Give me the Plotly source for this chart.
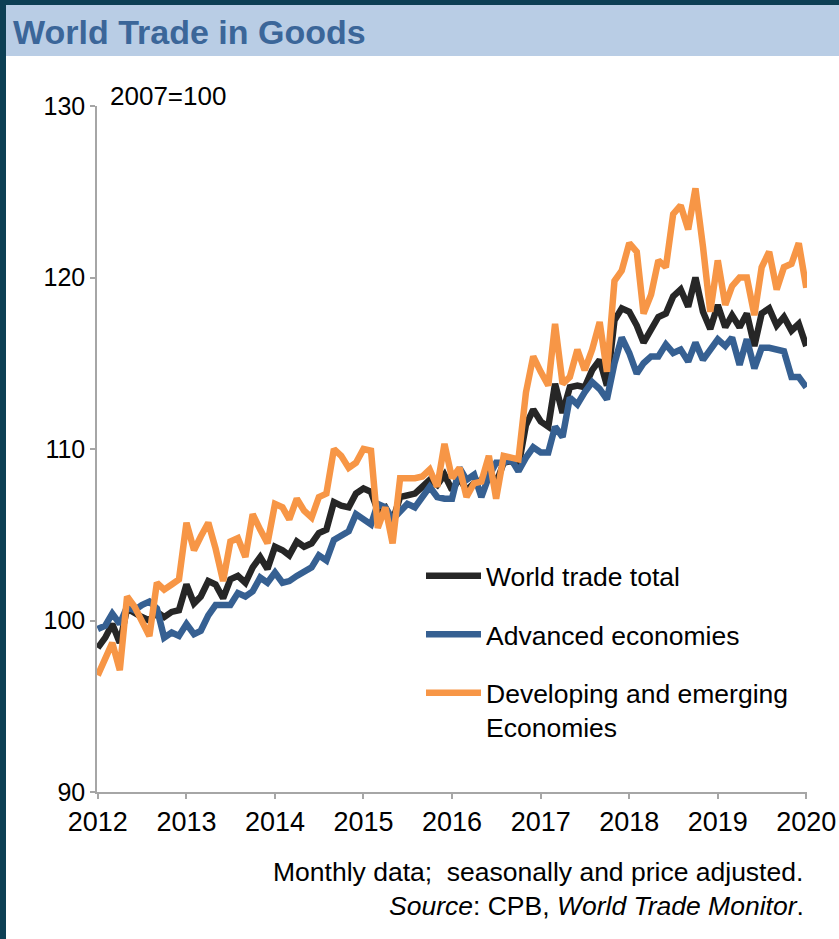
import plotly.graph_objects as go
import pandas as pd

# ---------------- data ----------------
months = pd.date_range("2012-01-01", "2020-01-01", freq="MS")
year_ticks = ["2012", "2013", "2014", "2015", "2016", "2017", "2018", "2019", "2020"]
y_ticks = [90, 100, 110, 120, 130]
series_names = ["World trade total", "Advanced economies", "Developing and emerging<br>Economies"]

world_total = [
    98.4, 99.0, 99.8, 98.7, 100.7, 100.4, 100.2, 100.0, 100.5, 100.2, 100.5, 100.6,
    102.1, 101.0, 101.4, 102.3, 102.1, 101.3, 102.4, 102.6, 102.2, 103.1, 103.7, 103.0,
    104.3, 104.1, 103.8, 104.6, 104.3, 104.5, 105.1, 105.3, 106.9, 106.7, 106.6, 107.4,
    107.7, 107.5, 106.4, 106.6, 105.8, 107.2, 107.3, 107.4, 107.8, 108.2, 107.9, 108.5,
    107.6, 108.3, 107.6, 108.0, 108.2, 108.8, 108.0, 109.2, 109.3, 109.0, 111.4, 112.3,
    111.6, 111.3, 113.8, 112.1, 113.6, 113.7, 113.6, 114.6, 115.2, 113.7, 117.5, 118.2,
    118.0, 117.2, 116.2, 116.9, 117.7, 117.9, 118.9, 119.3, 118.3, 120.0, 118.0, 117.0,
    118.4, 117.1, 117.8, 117.1, 117.9, 116.0, 117.9, 118.2, 117.2, 117.7, 116.9, 117.3,
    116.0,
]
advanced = [
    99.5, 99.7, 100.4, 99.8, 100.8, 100.6, 100.9, 101.1, 100.7, 99.0, 99.3, 99.1,
    99.8, 99.2, 99.4, 100.3, 100.9, 100.9, 100.9, 101.6, 101.4, 101.7, 102.5, 102.2,
    102.8, 102.2, 102.3, 102.6, 102.8, 103.1, 103.8, 103.5, 104.7, 104.9, 105.2, 106.2,
    105.9, 105.6, 106.8, 106.6, 105.9, 106.3, 106.8, 106.6, 107.3, 107.8, 107.2, 107.1,
    107.1, 108.9, 108.2, 108.5, 107.2, 108.4, 109.2, 109.2, 109.4, 108.7, 109.5, 110.1,
    109.8, 109.8, 111.3, 110.7, 113.0, 112.6, 113.3, 113.9, 113.5, 112.9, 115.0, 116.5,
    115.6, 114.4, 115.0, 115.4, 115.4, 116.1, 115.6, 115.8, 115.1, 116.2, 115.2, 115.8,
    116.4, 116.0, 116.5, 114.9, 116.4, 114.7, 115.9, 115.9, 115.8, 115.7, 114.2, 114.2,
    113.6,
]
developing = [
    96.8, 97.9, 98.7, 97.1, 101.4, 100.8, 100.0, 99.1, 102.2, 101.8, 102.1, 102.4,
    105.7, 104.1, 104.9, 105.7, 104.2, 102.3, 104.6, 104.8, 103.7, 106.2, 105.3, 104.5,
    106.8, 106.6, 105.9, 107.1, 106.4, 106.0, 107.2, 107.4, 110.0, 109.6, 108.9, 109.2,
    110.0, 109.9, 105.4, 106.6, 104.5, 108.3, 108.3, 108.3, 108.4, 108.8, 107.8, 110.3,
    108.3, 108.9, 107.2, 108.0, 108.1, 109.6, 107.1, 109.6, 109.5, 109.4, 113.3, 115.4,
    114.5, 113.7, 117.3, 113.8, 114.2, 115.8, 114.6, 115.8, 117.4, 114.5, 119.8, 120.4,
    122.0, 121.5, 117.9, 119.0, 121.0, 120.6, 123.7, 124.2, 122.8, 125.2, 121.8, 118.0,
    121.0, 118.4, 119.5, 120.0, 120.0, 117.8, 120.6, 121.5, 119.3, 120.6, 120.8, 122.0,
    119.4,
]

# ---------------- styling ----------------
W, H = 839, 939
ML, MR, MT, MB = 97, 32, 106, 147
PW, PH = W - ML - MR, H - MT - MB
FONT = "Liberation Sans, Arial, Helvetica, sans-serif"
AXIS_COLOR = "#a6a6a6"
DARK = "#0d3f54"
BAR = "#b9cde5"
TITLE_COLOR = "#3b6699"
colors = ["#262626", "#366092", "#f79646"]


def px(x):
    return (x - ML) / PW


def py(y):
    return (H - MB - y) / PH


fig = go.Figure()
for name, vals, col in zip(series_names, [world_total, advanced, developing], colors):
    fig.add_trace(go.Scatter(
        x=months, y=vals, mode="lines", name=name, legendgroup=name,
        line=dict(color=col, width=6.5),
    ))

shapes = [
    dict(type="rect", xref="paper", yref="paper", x0=px(0), x1=px(W), y0=py(0), y1=py(5),
         fillcolor=DARK, line=dict(width=0), layer="below"),
    dict(type="rect", xref="paper", yref="paper", x0=px(0), x1=px(6), y0=py(0), y1=py(H),
         fillcolor=DARK, line=dict(width=0), layer="below"),
    dict(type="rect", xref="paper", yref="paper", x0=px(6), x1=px(W), y0=py(5), y1=py(56),
         fillcolor=BAR, line=dict(width=0), layer="below"),
]

annotations = [
    dict(text="<b>World Trade in Goods</b>", xref="paper", yref="paper", x=px(11), y=py(32),
         xanchor="left", yanchor="middle", showarrow=False,
         font=dict(family=FONT, size=34, color=TITLE_COLOR)),
    dict(text="2007=100", xref="paper", yref="paper", x=px(108), y=py(96),
         xanchor="left", yanchor="middle", showarrow=False,
         font=dict(family=FONT, size=26, color="#000000")),
    dict(text="Monthly data;\u00a0 seasonally and price adjusted.", xref="paper", yref="paper",
         x=px(805), y=py(872), xanchor="right", yanchor="middle", showarrow=False,
         font=dict(family=FONT, size=26.5, color="#000000")),
    dict(text="<i>Source</i>: CPB, <i>World Trade Monitor</i>.", xref="paper", yref="paper",
         x=px(806), y=py(906), xanchor="right", yanchor="middle", showarrow=False,
         font=dict(family=FONT, size=26.5, color="#000000")),
]

fig.update_layout(
    width=W, height=H, autosize=False,
    margin=dict(l=ML, r=MR, t=MT, b=MB, pad=0, autoexpand=False),
    paper_bgcolor="white", plot_bgcolor="white",
    font=dict(family=FONT, size=25, color="#000000"),
    shapes=shapes, annotations=annotations,
    showlegend=True,
    legend=dict(
        x=px(421), y=py(552), xanchor="left", yanchor="top",
        traceorder="grouped", tracegroupgap=21, itemwidth=55, valign="top",
        bgcolor="rgba(0,0,0,0)", font=dict(family=FONT, size=26.5, color="#000000"),
    ),
    xaxis=dict(
        range=["2011-12-29", "2020-01-04"], automargin=False,
        tickvals=[f"{y}-01-01" for y in year_ticks], ticktext=year_ticks,
        showline=True, linecolor=AXIS_COLOR, linewidth=1.5,
        ticks="outside", ticklen=5, tickcolor=AXIS_COLOR, tickwidth=1.5,
        showgrid=False, zeroline=False, tickfont=dict(size=27),
    ),
    yaxis=dict(
        range=[90, 130], tickvals=y_ticks, ticktext=[str(v) for v in y_ticks], automargin=False,
        showline=True, linecolor=AXIS_COLOR, linewidth=1.5,
        ticks="outside", ticklen=5, tickcolor=AXIS_COLOR, tickwidth=1.5,
        showgrid=False, zeroline=False, tickfont=dict(size=25),
    ),
)

fig.write_html(
    "out.html",
    config={"displayModeBar": False, "responsive": False},
    post_script=(
        "document.documentElement.style.overflow='hidden';"
        "document.body.style.margin='0px';document.body.style.overflow='hidden';"
    ),
)
